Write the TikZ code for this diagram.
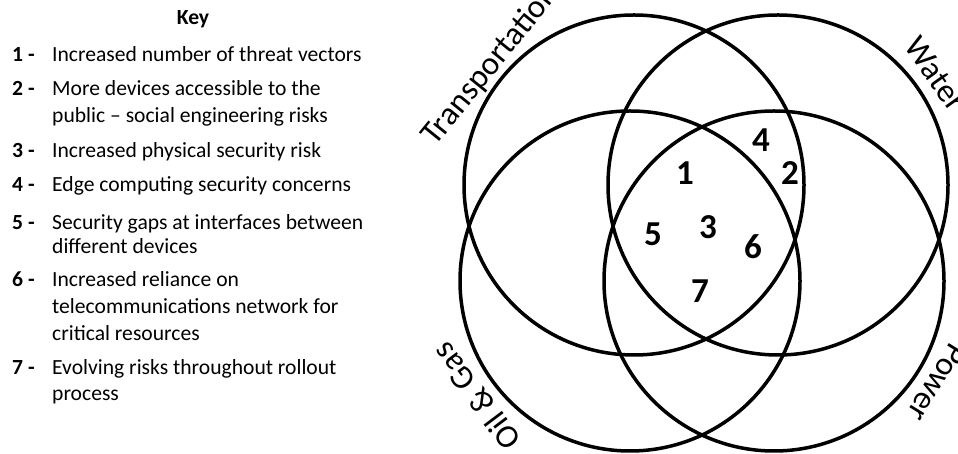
\documentclass[tikz,border=0pt]{standalone}
\usepackage{fontspec}
\setmainfont{Carlito}
\usetikzlibrary{calc}
\begin{document}
\begin{tikzpicture}[x=1pt,y=1pt,
  ring/.style={draw=black, line width=3.5pt},
  keyhead/.style={anchor=base, inner sep=0pt, font=\fontsize{21.6}{26}\selectfont\bfseries},
  keynum/.style={anchor=base west, inner sep=0pt, font=\fontsize{21.6}{26}\selectfont\bfseries},
  keytxt/.style={anchor=base west, inner sep=0pt, font=\fontsize{21.6}{26}\selectfont},
  vnum/.style={inner sep=0pt, font=\fontsize{35}{40}\selectfont\bfseries},
  sector/.style={anchor=base, inner sep=0pt, font=\fontsize{33}{36}\selectfont}]
\clip (0,0) rectangle (958,454);
\fill[white] (0,0) rectangle (958,454);

% key
\node[keyhead] (key) at (193,429) {Key};
\node[keynum] (n1) at (12,392) {1 -};
\node[keytxt] (t1) at (52,392) {Increased number of threat vectors};
\node[keynum] (n2) at (12,358) {2 -};
\node[keytxt] (t2a) at (52,358) {More devices accessible to the};
\node[keytxt] (t2b) at (52,331) {public -- social engineering risks};
\node[keynum] (n3) at (12,296) {3 -};
\node[keytxt] (t3) at (52,296) {Increased physical security risk};
\node[keynum] (n4) at (12,262) {4 -};
\node[keytxt] (t4) at (52,262) {Edge computing security concerns};
\node[keynum] (n5) at (12,224) {5 -};
\node[keytxt] (t5a) at (52,224) {Security gaps at interfaces between};
\node[keytxt] (t5b) at (52,200) {different devices};
\node[keynum] (n6) at (12,167) {6 -};
\node[keytxt] (t6a) at (52,167) {Increased reliance on};
\node[keytxt] (t6b) at (52,140) {telecommunications network for};
\node[keytxt] (t6c) at (52,113) {critical resources};
\node[keynum] (n7) at (12,79) {7 -};
\node[keytxt] (t7a) at (52,79) {Evolving risks throughout rollout};
\node[keytxt] (t7b) at (52,53) {process};

% venn circles
\coordinate (TL) at (634,269);
\coordinate (TR) at (778,269);
\coordinate (BL) at (630,173);
\coordinate (BR) at (774,173);
\draw[ring] (TL) circle [radius=170pt];
\draw[ring] (TR) circle [radius=170pt];
\draw[ring] (BL) circle [radius=170pt];
\draw[ring] (BR) circle [radius=170pt];

% sector labels
\node[sector, rotate=51] (ltrans) at ($(TL)+(140:178pt)$) {Transportation};
\node[sector, rotate=-54.5] (lwater) at ($(TR)+(35.1:182pt)$) {Water};
\node[sector, rotate=-121.9] (lpower) at ($(BR)+(-31.9:182pt)$) {Power};
\node[sector, rotate=127] (loil) at ($(BL)+(217:181pt)$) {Oil \& Gas};

% numbers
\node[vnum] (v1) at (685,281) {1};
\node[vnum] (v4) at (761,314) {4};
\node[vnum] (v2) at (790,281) {2};
\node[vnum] (v3) at (708,227) {3};
\node[vnum] (v5) at (653,220) {5};
\node[vnum] (v6) at (753,207) {6};
\node[vnum] (v7) at (700,163) {7};
\end{tikzpicture}
\end{document}
